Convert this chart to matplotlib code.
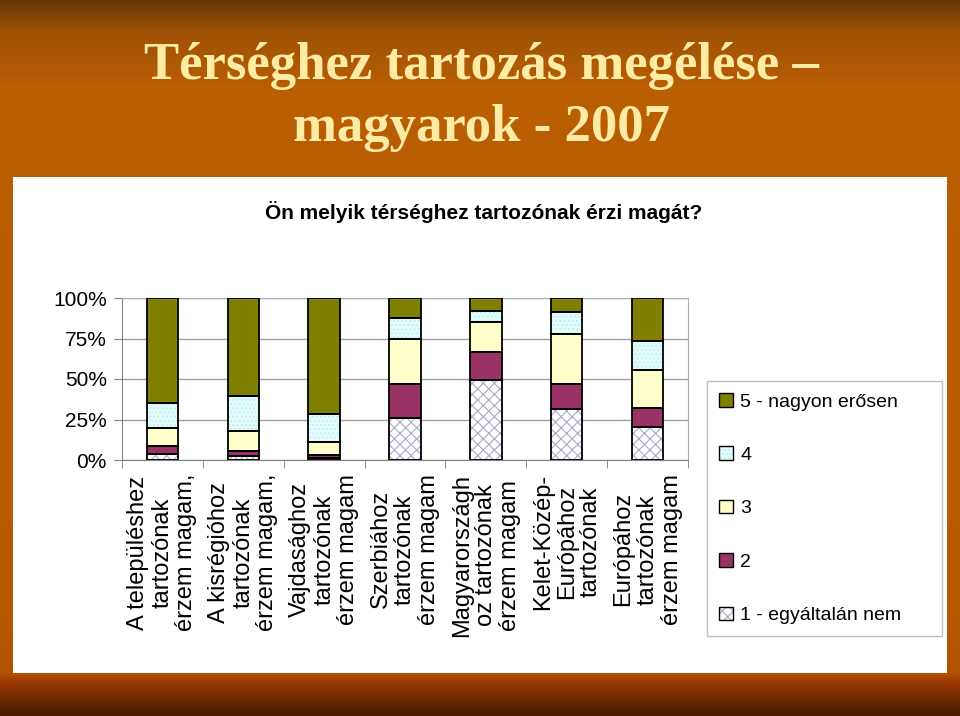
import numpy as np
import matplotlib
matplotlib.use("Agg")
import matplotlib.pyplot as plt
from matplotlib.patches import Rectangle, Patch

# category labels (already wrapped like in the slide)
categories = [
    "A településhez\ntartozónak\nérzem magam,",
    "A kisrégióhoz\ntartozónak\nérzem magam,",
    "Vajdasághoz\ntartozónak\nérzem magam",
    "Szerbiához\ntartozónak\nérzem magam",
    "Magyarországh\noz tartozónak\nérzem magam",
    "Kelet-Közép-\nEurópához\ntartozónak",
    "Európához\ntartozónak\nérzem magam",
]

# shares in percent (bottom -> top)
s1 = [3.9, 2.7, 1.0, 25.9, 49.2, 31.3, 20.4]
s2 = [4.8, 3.1, 2.2, 21.2, 17.5, 15.8, 11.9]
s3 = [10.9, 12.2, 8.0, 27.6, 18.3, 30.5, 23.1]
s4 = [15.4, 21.8, 17.3, 12.8, 7.0, 13.6, 18.3]
s5 = [65.0, 60.2, 71.5, 12.5, 8.0, 8.8, 26.3]

series_labels = ["1 - egyáltalán nem", "2", "3", "4", "5 - nagyon erősen"]
y_ticks = [0, 25, 50, 75, 100]
y_tick_labels = ["0%", "25%", "50%", "75%", "100%"]

title1 = "Térséghez tartozás megélése –"
title2 = "magyarok - 2007"
subtitle = "Ön melyik térséghez tartozónak érzi magát?"

W, H = 960, 716
plt.rcParams['hatch.linewidth'] = 0.8
sans = 'Liberation Sans'

fig = plt.figure(figsize=(W / 100, H / 100), dpi=100)


def px(x0, y0, x1, y1):
    # pixel box (top-left origin) -> figure fraction rect
    return [x0 / W, 1 - y1 / H, (x1 - x0) / W, (y1 - y0) / H]


# slide background: orange/brown vertical gradient
bg = fig.add_axes([0, 0, 1, 1], zorder=0)
ys = np.arange(H)
stops_y = [0, 30, 90, 600, 673, 682, 716]
stops_c = [(0.40, 0.21, 0.03), (0.62, 0.32, 0.02), (0.73, 0.37, 0.01),
           (0.72, 0.35, 0.00), (0.70, 0.32, 0.00), (0.60, 0.22, 0.00),
           (0.27, 0.10, 0.00)]
col = np.array([[np.interp(y, stops_y, [c[k] for c in stops_c]) for k in range(3)] for y in ys])
img = np.repeat(col[:, None, :], W, axis=1)
bg.imshow(img, extent=[0, 1, 0, 1], aspect='auto', interpolation='bilinear')
bg.add_patch(Rectangle((13 / W, 1 - 673 / H), (947 - 13) / W, (673 - 177) / H,
                       transform=bg.transAxes, facecolor='white', edgecolor='none'))
bg.set_xlim(0, 1)
bg.set_ylim(0, 1)
bg.axis('off')

fig.text(481 / W, 1 - 66 / H, title1, ha='center', va='center', fontsize=38,
         fontweight='bold', family='Liberation Serif', color='#FFEBA3', zorder=3)
fig.text(481 / W, 1 - 128 / H, title2, ha='center', va='center', fontsize=38,
         fontweight='bold', family='Liberation Serif', color='#FFEBA3', zorder=3)
fig.text(484 / W, 1 - 212 / H, subtitle, ha='center', va='center', fontsize=15,
         fontweight='bold', family=sans, zorder=3)

# chart
ax = fig.add_axes(px(122, 298, 688, 460), zorder=2)
ax.set_facecolor('none')
x = np.arange(len(categories))
width = 0.39

styles = [
    dict(face='white', hatch='xxx', hc='#A8A8D0'),
    dict(face='#993366', hatch=None, hc='#993366'),
    dict(face='#FFFFCC', hatch=None, hc='#FFFFCC'),
    dict(face='#E2FAFA', hatch='....', hc='#B8F0F0'),
    dict(face='#808000', hatch=None, hc='#808000'),
]
series = [s1, s2, s3, s4, s5]

bottom = np.zeros(len(categories))
handles = []
for vals, st, lab in zip(series, styles, series_labels):
    vals = np.array(vals)
    ax.bar(x, vals, width, bottom=bottom, color=st['face'], edgecolor=st['hc'],
           hatch=st['hatch'], linewidth=0, zorder=2)
    ax.bar(x, vals, width, bottom=bottom, color='none', edgecolor='black',
           linewidth=1.3, zorder=3)
    bottom += vals
    handles.append((Patch(facecolor=st['face'], edgecolor=st['hc'], hatch=st['hatch'], linewidth=0),
                    Patch(facecolor='none', edgecolor='black', linewidth=1.0)))

ax.set_xlim(-0.5, len(categories) - 0.5)
ax.set_ylim(0, 100)
ax.set_yticks(y_ticks)
ax.set_yticklabels(y_tick_labels, fontsize=15, family=sans)
ax.yaxis.grid(True, color='#A0A0A0', linewidth=1)
ax.set_axisbelow(True)
ax.tick_params(axis='y', length=6, color='#808080', pad=5)

ax.set_xticks(x)
ax.set_xticklabels(categories, rotation=90, ha='center', va='top',
                   multialignment='center', linespacing=1.12,
                   fontsize=17, family=sans)
ax.set_xticks(np.arange(-0.5, len(categories), 1), minor=True)
ax.tick_params(axis='x', which='major', length=0, pad=10)
ax.tick_params(axis='x', which='minor', length=6, color='#808080')

for side in ['left', 'bottom']:
    ax.spines[side].set_color('#808080')
for side in ['right', 'top']:
    ax.spines[side].set_color('#B0B0B0')

leg = fig.legend(handles[::-1], series_labels[::-1], loc='upper left',
                 bbox_to_anchor=(707 / W, 1 - 629 / H, 235 / W, 248 / H), mode='expand',
                 prop={'family': sans, 'size': 14},
                 frameon=True, fancybox=False, framealpha=1, edgecolor='#C0C0C0',
                 handlelength=0.7, handleheight=0.7, handletextpad=0.4,
                 labelspacing=1.84, borderpad=0.62, borderaxespad=0)
leg.get_frame().set_linewidth(1.0)
leg.set_zorder(4)

fig.savefig('out.png', dpi=100)
